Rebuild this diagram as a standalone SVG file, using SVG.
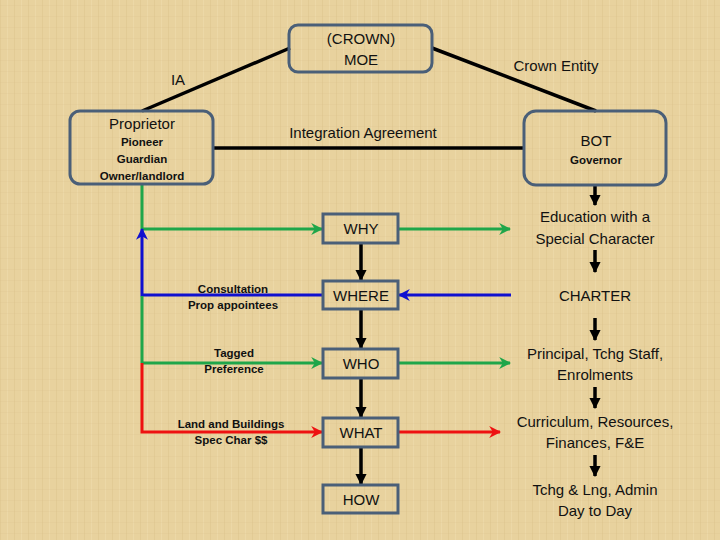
<svg xmlns="http://www.w3.org/2000/svg" width="720" height="540" viewBox="0 0 720 540">
<defs>
<pattern id="tex" width="14" height="11" patternUnits="userSpaceOnUse">
<rect width="14" height="11" fill="#e8d29e"/>
<rect x="0" y="0" width="1" height="11" fill="#d6bc84" opacity="0.35"/>
<rect x="7" y="0" width="1" height="11" fill="#f2e0b2" opacity="0.45"/>
<rect x="0" y="5" width="14" height="1" fill="#d9c08a" opacity="0.2"/>
</pattern>
<marker id="ab" viewBox="0 0 10 10" refX="9" refY="5" markerWidth="3.2" markerHeight="3.2" orient="auto" markerUnits="strokeWidth"><path d="M0,0 L10,5 L0,10 z" fill="#000"/></marker>
<marker id="ag" viewBox="0 0 10 10" refX="9" refY="5" markerWidth="4" markerHeight="4" orient="auto" markerUnits="strokeWidth"><path d="M0,0 L10,5 L0,10 L3,5 z" fill="#1fa64a"/></marker>
<marker id="au" viewBox="0 0 10 10" refX="9" refY="5" markerWidth="4" markerHeight="4" orient="auto" markerUnits="strokeWidth"><path d="M0,0 L10,5 L0,10 L3,5 z" fill="#1010d0"/></marker>
<marker id="ar" viewBox="0 0 10 10" refX="9" refY="5" markerWidth="4" markerHeight="4" orient="auto" markerUnits="strokeWidth"><path d="M0,0 L10,5 L0,10 L3,5 z" fill="#ee1111"/></marker>
</defs>
<style>
text{font-family:"Liberation Sans",Arial,sans-serif;fill:#111;text-anchor:middle}
.t{font-size:15px}
.s{font-size:11.5px;font-weight:bold}
.rb{fill:none;stroke:#4a5f78;stroke-width:3}
.blk{stroke:#000;stroke-width:3.5;fill:none}
.g{stroke:#1fa64a;stroke-width:3;fill:none}
.b{stroke:#1010d0;stroke-width:3;fill:none}
.r{stroke:#ee1111;stroke-width:3;fill:none}
</style>
<rect width="720" height="540" fill="url(#tex)"/>

<g id="connectors">
<line class="blk" x1="290" y1="48" x2="142" y2="111"/>
<line class="blk" x1="432" y1="48" x2="596" y2="111"/>
<line class="blk" x1="213" y1="148" x2="524" y2="148"/>
<line class="g" x1="142" y1="184" x2="142" y2="229"/>
<line class="g" x1="142" y1="229" x2="322" y2="229" marker-end="url(#ag)"/>
<line class="g" x1="398" y1="229" x2="510" y2="229" marker-end="url(#ag)"/>
<line class="b" x1="511" y1="295" x2="399" y2="295" marker-end="url(#au)"/>
<polyline class="b" points="323,295 142,295 142,229" marker-end="url(#au)"/>
<line class="g" x1="142" y1="296" x2="142" y2="363"/>
<line class="g" x1="142" y1="363" x2="322" y2="363" marker-end="url(#ag)"/>
<line class="g" x1="398" y1="363" x2="510" y2="363" marker-end="url(#ag)"/>
<polyline class="r" points="142,363 142,432 322,432" marker-end="url(#ar)"/>
<line class="r" x1="398" y1="432" x2="500" y2="432" marker-end="url(#ar)"/>
<line class="blk" x1="361" y1="244" x2="361" y2="280" marker-end="url(#ab)"/>
<line class="blk" x1="361" y1="310" x2="361" y2="348" marker-end="url(#ab)"/>
<line class="blk" x1="361" y1="379" x2="361" y2="417" marker-end="url(#ab)"/>
<line class="blk" x1="361" y1="448" x2="361" y2="484" marker-end="url(#ab)"/>
<line class="blk" x1="595" y1="186" x2="595" y2="205" marker-end="url(#ab)"/>
<line class="blk" x1="595" y1="250" x2="595" y2="272" marker-end="url(#ab)"/>
<line class="blk" x1="595" y1="318" x2="595" y2="340" marker-end="url(#ab)"/>
<line class="blk" x1="595" y1="387" x2="595" y2="408" marker-end="url(#ab)"/>
<line class="blk" x1="595" y1="455" x2="595" y2="476" marker-end="url(#ab)"/>
</g>

<g id="labels">
<text class="t" x="178" y="85">IA</text>
<text class="t" x="363" y="138">Integration Agreement</text>
<text class="t" x="556" y="71">Crown Entity</text>
<text class="s" x="233" y="293">Consultation</text>
<text class="s" x="233" y="309">Prop appointees</text>
<text class="s" x="234" y="357">Tagged</text>
<text class="s" x="234" y="373">Preference</text>
<text class="s" x="231" y="428">Land and Buildings</text>
<text class="s" x="231" y="444">Spec Char $$</text>
</g>

<g id="moe"><rect class="rb" x="289" y="25" width="143" height="47" rx="9"/>
<text class="t" x="361" y="44">(CROWN)</text><text class="t" x="361" y="65">MOE</text></g>
<g id="proprietor"><rect class="rb" x="70" y="111" width="143" height="73" rx="10"/>
<text class="t" x="142" y="129">Proprietor</text>
<text class="s" x="142" y="146">Pioneer</text>
<text class="s" x="142" y="163">Guardian</text>
<text class="s" x="142" y="180">Owner/landlord</text></g>
<g id="bot"><rect class="rb" x="524" y="111" width="142" height="74" rx="12"/>
<text class="t" x="596" y="146">BOT</text><text class="s" x="596" y="164">Governor</text></g>

<g id="why"><rect class="rb" x="323" y="214" width="75" height="29"/><text class="t" x="361" y="234">WHY</text></g>
<g id="where"><rect class="rb" x="323" y="281" width="75" height="28"/><text class="t" x="361" y="301">WHERE</text></g>
<g id="who"><rect class="rb" x="323" y="349" width="75" height="29"/><text class="t" x="361" y="369">WHO</text></g>
<g id="what"><rect class="rb" x="323" y="418" width="75" height="29"/><text class="t" x="361" y="438">WHAT</text></g>
<g id="how"><rect class="rb" x="323" y="485" width="75" height="28"/><text class="t" x="361" y="505">HOW</text></g>

<g id="esc"><text class="t" x="595" y="222">Education with a</text><text class="t" x="595" y="244">Special Character</text></g>
<g id="charter"><text class="t" x="595" y="301">CHARTER</text></g>
<g id="principal"><text class="t" x="595" y="359">Principal, Tchg Staff,</text><text class="t" x="595" y="380">Enrolments</text></g>
<g id="curriculum"><text class="t" x="595" y="427">Curriculum, Resources,</text><text class="t" x="595" y="448">Finances, F&amp;E</text></g>
<g id="tchg"><text class="t" x="595" y="495">Tchg &amp; Lng, Admin</text><text class="t" x="595" y="516">Day to Day</text></g>
</svg>
